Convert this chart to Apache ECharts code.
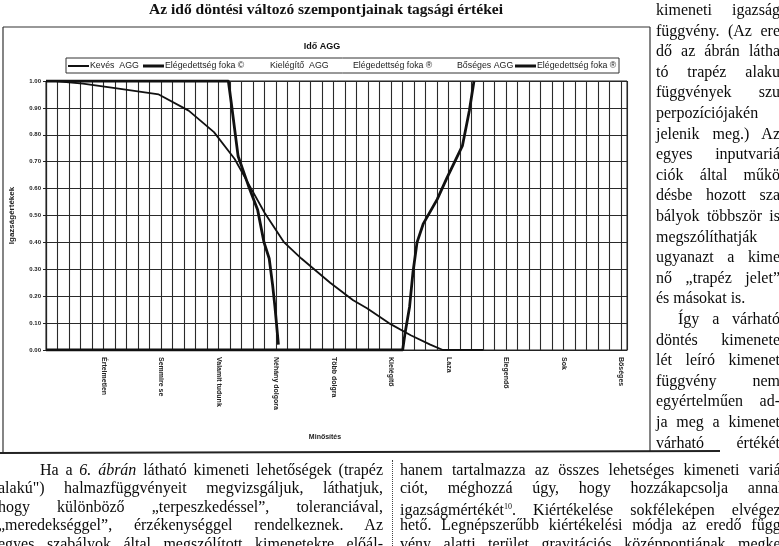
<!DOCTYPE html>
<html>
<head>
<meta charset="utf-8">
<script src="https://cdn.jsdelivr.net/npm/echarts@6/dist/echarts.min.js"></script>
<style>
  html, body { margin: 0; padding: 0; background: #fff; }
  #wrap { position: relative; width: 779px; height: 546px; overflow: hidden; background: #fff; }
  #chart { position: absolute; left: 0; top: 0; width: 779px; height: 546px; }
  .ln { position: absolute; font-family: 'Liberation Serif', 'DejaVu Serif', serif; font-size: 16px;
        line-height: 20px; height: 20px; white-space: nowrap; color: #0a0a0a; }
  .j { text-align: justify; text-align-last: justify; }
  #sep { position: absolute; left: 392px; top: 460px; height: 86px; border-left: 1px dotted #444; }
</style>
</head>
<body>
<div id="wrap">
  <div id="chart"></div>
  <div id="sep"></div>
</div>
<script>
// ---------------- DATA ----------------
const categoryLabels = ['Értelmetlen', 'Semmire se', 'Valamit tudunk', 'Néhány dolgora', 'Több dolgra',
                        'Kielégítő', 'Laza', 'Elegendő', 'Sok', 'Bőséges'];
const legendLabels = ['Kevés  AGG', 'Elégedettség foka ©', 'Kielégítő  AGG', 'Elégedettség foka ®',
                      'Bőséges AGG', 'Elégedettség foka ®'];

// Kevés AGG
const kevesX = [0.8, 3.2, 5.7, 9.8, 12.4, 14.6, 16.4, 17.7, 19.0, 20.7, 22.2, 24.7, 26.7, 27.9, 29.8, 31.7, 33.4, 34.5, 38.0];
const kevesY = [1.00, 0.99, 0.975, 0.95, 0.89, 0.81, 0.71, 0.61, 0.51, 0.40, 0.34, 0.25, 0.185, 0.155, 0.10, 0.055, 0.02, 0.00, 0.00];

// Elégedettség foka © (Kevés)
const elegCX = [0, 15.85, 16.1, 16.7, 17.6, 18.4, 18.95, 19.4, 19.7, 19.9, 20.2];
const elegCY = [1.00, 1.00, 0.92, 0.72, 0.61, 0.52, 0.40, 0.34, 0.24, 0.16, 0.02];

// Elégedettség foka ® (Bőséges)
const elegRX = [0, 31.0, 31.2, 31.6, 31.9, 32.25, 32.8, 34.0, 34.85, 36.2, 36.8, 37.2];
const elegRY = [0.00, 0.00, 0.06, 0.16, 0.29, 0.40, 0.47, 0.56, 0.64, 0.76, 0.89, 1.00];

// ---------------- TEXT ----------------
const rightLines = [
  ['kimeneti igazság', 'j'], ['függvény. (Az ere', 'j'], ['dő az ábrán látha', 'j'], ['tó trapéz alaku', 'j'],
  ['függvények szu', 'j'], ['perpozíciójakén', 'j'], ['jelenik meg.) Az', 'j'], ['egyes inputvariá', 'j'],
  ['ciók által műkö', 'j'], ['désbe hozott sza', 'j'], ['bályok többször is', 'j'], ['megszólíthatják', 'j'],
  ['ugyanazt a kime', 'j'], ['nő „trapéz jelet”', 'j'], ['és másokat is.', 'l'], ['Így a várható', 'i'],
  ['döntés kimenete', 'j'], ['lét leíró kimenet', 'j'], ['függvény nem', 'j'], ['egyértelműen ad-', 'j'],
  ['ja meg a kimenet', 'j'], ['várható értékét', 'j']
];
const bottomLeft = [
  ['Ha a <i>6. ábrán</i> látható kimeneti lehetőségek (trapéz', 'i'],
  ['alakú") halmazfüggvényeit megvizsgáljuk, láthatjuk,', 'j'],
  ['hogy különböző „terpeszkedéssel”, toleranciával,', 'j'],
  ['„meredekséggel”, érzékenységgel rendelkeznek. Az', 'j'],
  ['egyes szabályok által megszólított kimenetekre előál-', 'j']
];
const bottomRight = [
  ['hanem tartalmazza az összes lehetséges kimeneti variá-', 'j'],
  ['ciót, méghozzá úgy, hogy hozzákapcsolja annak', 'j'],
  ['igazságmértékét<sup style="font-size:8px">10</sup>. Kiértékelése sokféleképen elvégez-', 'j'],
  ['hető. Legnépszerűbb kiértékelési módja az eredő függ-', 'j'],
  ['vény alatti terület gravitációs középpontjának megke-', 'j']
];

function placeLines(lines, left, width, top0, step, indent) {
  const wrap = document.getElementById('wrap');
  lines.forEach((l, i) => {
    const d = document.createElement('div');
    d.className = 'ln' + (l[1] === 'j' || l[1] === 'i' ? ' j' : '');
    let x = left, w = width;
    if (l[1] === 'i') { x = left + indent; w = width - indent; }
    d.style.left = x + 'px';
    d.style.width = w + 'px';
    d.style.top = (top0 + i * step) + 'px';
    d.innerHTML = l[0];
    wrap.appendChild(d);
  });
}
placeLines(rightLines, 656, 124, 0, 20.6, 22);
placeLines(bottomLeft, -2, 385, 460, 18.4, 42);
placeLines(bottomRight, 400, 386, 460, 18.4, 0);

// ---------------- CHART ----------------
const pairs = (xs, ys) => xs.map((x, i) => [x, ys[i]]);
const sans = 'Liberation Sans, Arial, sans-serif';
const chart = echarts.init(document.getElementById('chart'), null, { renderer: 'canvas' });

const legendX = [90, 165, 270, 353, 457, 537];
const legendG = [
  { type: 'rect', shape: { x: 66, y: 58, width: 553, height: 15 }, style: { fill: 'none', stroke: '#333', lineWidth: 1 } },
  { type: 'line', shape: { x1: 68, y1: 66, x2: 89, y2: 66 }, style: { stroke: '#111', lineWidth: 2 } },
  { type: 'line', shape: { x1: 143, y1: 66, x2: 164, y2: 66 }, style: { stroke: '#111', lineWidth: 3 } },
  { type: 'line', shape: { x1: 515, y1: 66, x2: 536, y2: 66 }, style: { stroke: '#111', lineWidth: 3 } }
];
legendLabels.forEach((t, i) => legendG.push({
  type: 'text', x: legendX[i], y: 66,
  style: { text: t, font: '8.8px ' + sans, fill: '#222', textAlign: 'left', textVerticalAlign: 'middle' }
}));

chart.setOption({
  animation: false,
  backgroundColor: '#fff',
  grid: { left: 43.5, top: 81, width: 583.5, height: 269, show: true, borderColor: '#222', borderWidth: 1 },
  xAxis: {
    type: 'value', min: 0, max: 50.5, interval: 1,
    axisLine: { lineStyle: { color: '#222', width: 1.2 } },
    axisTick: { show: false },
    splitLine: { show: true, lineStyle: { color: '#2a2a2a', width: 1.1 } },
    axisLabel: {
      formatter: v => (v > 0 && v % 5 === 0) ? categoryLabels[v / 5 - 1] : '',
      rotate: -90, fontSize: 7, color: '#222', margin: 7, fontFamily: sans, fontWeight: 'bold',
      showMaxLabel: false
    }
  },
  yAxis: {
    type: 'value', min: 0, max: 1, interval: 0.1,
    name: 'Igazságértékek', nameLocation: 'middle', nameGap: 30, nameRotate: 90,
    nameTextStyle: { fontSize: 8, fontWeight: 'bold', color: '#222', fontFamily: sans },
    axisLine: { show: true, lineStyle: { color: '#222', width: 1.2 } },
    axisTick: { show: true, length: 3, lineStyle: { color: '#222' } },
    splitLine: { show: true, lineStyle: { color: '#2a2a2a', width: 1.1 } },
    axisLabel: { formatter: v => v.toFixed(2), fontSize: 6, color: '#222', margin: 5, fontFamily: sans, fontWeight: 'bold' }
  },
  series: [
    { name: 'Kevés AGG', type: 'line', data: pairs(kevesX, kevesY), symbol: 'none',
      lineStyle: { color: '#111', width: 1.8 }, z: 5 },
    { name: 'Elégedettség foka ©', type: 'line', data: pairs(elegCX, elegCY), symbol: 'none',
      lineStyle: { color: '#111', width: 2.8 }, z: 6 },
    { name: 'Elégedettség foka ®', type: 'line', data: pairs(elegRX, elegRY), symbol: 'none',
      lineStyle: { color: '#111', width: 2.8 }, z: 6 }
  ],
  graphic: [
    { type: 'text', x: 326, y: 10, style: { text: 'Az idő döntési változó szempontjainak tagsági értékei',
      font: 'bold 15.5px Liberation Serif, serif', fill: '#111', textAlign: 'center', textVerticalAlign: 'middle' } },
    { type: 'line', shape: { x1: 3, y1: 27, x2: 650, y2: 27 }, style: { stroke: '#333', lineWidth: 1.2 } },
    { type: 'line', shape: { x1: 3, y1: 27, x2: 3, y2: 452 }, style: { stroke: '#333', lineWidth: 1.2 } },
    { type: 'line', shape: { x1: 650, y1: 27, x2: 650, y2: 452 }, style: { stroke: '#333', lineWidth: 1.2 } },
    { type: 'line', shape: { x1: 0, y1: 453, x2: 720, y2: 451 }, style: { stroke: '#222', lineWidth: 2 } },
    { type: 'text', x: 322, y: 47, style: { text: 'Idő AGG', font: 'bold 9px ' + sans, fill: '#111',
      textAlign: 'center', textVerticalAlign: 'middle' } },
    { type: 'text', x: 325, y: 437, style: { text: 'Minősítés', font: 'bold 7px ' + sans, fill: '#222',
      textAlign: 'center', textVerticalAlign: 'middle' } }
  ].concat(legendG)
});
</script>
</body>
</html>
